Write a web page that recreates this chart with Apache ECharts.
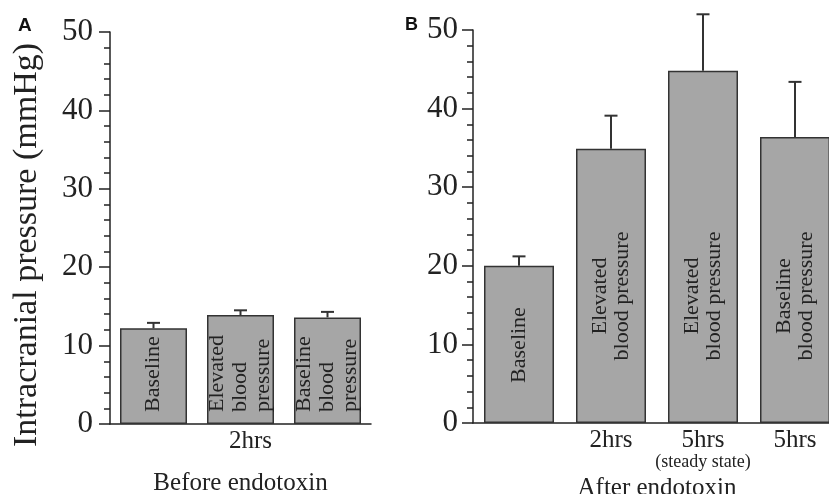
<!DOCTYPE html>
<html>
<head>
<meta charset="utf-8">
<script src="https://cdn.jsdelivr.net/npm/echarts@6/dist/echarts.min.js"></script>
<style>
  html, body { margin: 0; padding: 0; background: #fff; overflow: hidden; }
  #chart { width: 829px; height: 494px; }
</style>
</head>
<body>
<div id="chart"></div>
<script>
// panel A: before endotoxin
const catsA = ['Baseline', 'Elevated blood pressure', 'Baseline blood pressure']
const barTextA = ['Baseline', 'Elevated\nblood\npressure', 'Baseline\nblood\npressure']
const timeA = ['', '2hrs', '']
const valuesA = [12.2, 13.9, 13.6]
const errA = [0.7, 0.6, 0.7]

// panel B: after endotoxin
const catsB = ['Baseline', 'Elevated 2hrs', 'Elevated 5hrs', 'Baseline 5hrs']
const barTextB = ['Baseline', 'Elevated\nblood pressure', 'Elevated\nblood pressure', 'Baseline\nblood pressure']
const timeB = ['', '2hrs', '5hrs', '5hrs']
const noteB = ['', '', '(steady state)', '']
const valuesB = [20.0, 34.9, 44.8, 36.4]
const errB = [1.2, 4.2, 7.2, 7.0]
const labelLiftB = [78, 127, 127, 127] // label centre height above the axis

const yTicks = [0, 10, 20, 30, 40, 50]

const serif = 'Liberation Serif'
const ink = '#222'

const chart = echarts.init(document.getElementById('chart'))

// error bar: stem from bar top up to top + err, with a cap
function errorBar (params, api) {
  const top = api.coord([api.value(0), api.value(1)])
  const end = api.coord([api.value(0), api.value(2)])
  const style = { stroke: '#333', lineWidth: 2 }
  return {
    type: 'group',
    children: [
      { type: 'line', shape: { x1: top[0], y1: top[1], x2: end[0], y2: end[1] }, style: style },
      { type: 'line', shape: { x1: end[0] - 6.5, y1: end[1], x2: end[0] + 6.5, y2: end[1] }, style: style }
    ]
  }
}

function yAxisFor (gridIndex, margin, withName) {
  const ax = {
    type: 'value',
    gridIndex: gridIndex,
    min: yTicks[0],
    max: yTicks[yTicks.length - 1],
    interval: 10,
    splitLine: { show: false },
    axisLine: { show: true, lineStyle: { color: ink, width: 1.5 } },
    axisTick: { show: true, inside: false, length: 11, lineStyle: { color: ink, width: 1.5 } },
    minorTick: { show: true, splitNumber: 5, length: 6, lineStyle: { color: ink, width: 1.5 } },
    axisLabel: { margin: margin, fontFamily: serif, fontSize: 31, color: ink }
  }
  if (withName) {
    ax.name = 'Intracranial pressure (mmHg)'
    ax.nameLocation = 'middle'
    ax.nameRotate = 90
    ax.nameGap = 66
    ax.nameTextStyle = { fontFamily: serif, fontSize: 34, color: ink, padding: [0, 34, 0, 0] }
  }
  return ax
}

const barStyle = { color: '#a6a6a6', borderColor: '#333', borderWidth: 1.5 }

const option = {
  animation: false,
  backgroundColor: '#fff',
  title: [
    { text: 'A', left: 13, top: 11, textStyle: { fontFamily: 'Liberation Sans', fontWeight: 'bold', fontSize: 19, color: '#111' } },
    { text: 'B', left: 400, top: 11, textStyle: { fontFamily: 'Liberation Sans', fontWeight: 'bold', fontSize: 18, color: '#111' } }
  ],
  grid: [
    { left: 110, top: 32, width: 261, height: 392, containLabel: false, outerBoundsMode: 'none' },
    { left: 473, top: 30, width: 368, height: 393, containLabel: false, outerBoundsMode: 'none' }
  ],
  xAxis: [
    {
      type: 'category',
      gridIndex: 0,
      data: catsA,
      name: 'Before endotoxin',
      nameLocation: 'middle',
      nameGap: 47,
      nameTextStyle: { fontFamily: serif, fontSize: 25, color: ink },
      axisLine: { lineStyle: { color: ink, width: 1.5 } },
      axisTick: { show: false },
      axisLabel: {
        margin: 5,
        interval: 0,
        formatter: (v, i) => timeA[i] ? '{t|' + timeA[i] + '}' : '',
        rich: { t: { fontFamily: serif, fontSize: 25, color: ink, padding: [0, 0, 0, 20] } }
      }
    },
    {
      type: 'category',
      gridIndex: 1,
      data: catsB,
      name: 'After endotoxin',
      nameLocation: 'middle',
      nameGap: 50,
      nameTextStyle: { fontFamily: serif, fontSize: 25, color: ink },
      axisLine: { lineStyle: { color: ink, width: 1.5 } },
      axisTick: { show: false },
      axisLabel: {
        margin: 5,
        interval: 0,
        formatter: (v, i) => {
          if (!timeB[i]) return ''
          return noteB[i] ? '{t|' + timeB[i] + '}\n{s|' + noteB[i] + '}' : '{t|' + timeB[i] + '}'
        },
        rich: {
          t: { fontFamily: serif, fontSize: 25, lineHeight: 24, color: ink },
          s: { fontFamily: serif, fontSize: 18, lineHeight: 20, color: ink }
        }
      }
    }
  ],
  yAxis: [yAxisFor(0, 17, true), yAxisFor(1, 15, false)],
  series: [
    {
      type: 'custom',
      xAxisIndex: 0,
      yAxisIndex: 0,
      z: 1,
      renderItem: errorBar,
      encode: { x: 0, y: [1, 2] },
      data: valuesA.map((v, i) => [i, v, v + errA[i]])
    },
    {
      type: 'bar',
      xAxisIndex: 0,
      yAxisIndex: 0,
      z: 2,
      barWidth: 67,
      itemStyle: barStyle,
      label: {
        show: true,
        position: 'insideBottom',
        distance: 12,
        rotate: 90,
        align: 'left',
        verticalAlign: 'middle',
        fontFamily: serif,
        fontSize: 22,
        lineHeight: 23,
        color: ink,
        formatter: (p) => barTextA[p.dataIndex]
      },
      data: valuesA
    },
    {
      type: 'custom',
      xAxisIndex: 1,
      yAxisIndex: 1,
      z: 1,
      clip: false,
      renderItem: errorBar,
      encode: { x: 0, y: [1, 2] },
      data: valuesB.map((v, i) => [i, v, v + errB[i]])
    },
    {
      type: 'bar',
      xAxisIndex: 1,
      yAxisIndex: 1,
      z: 2,
      barWidth: 70,
      itemStyle: barStyle,
      label: {
        show: true,
        position: 'insideBottom',
        rotate: 90,
        align: 'center',
        verticalAlign: 'middle',
        fontFamily: serif,
        fontSize: 22,
        lineHeight: 22,
        color: ink,
        formatter: (p) => barTextB[p.dataIndex]
      },
      data: valuesB.map((v, i) => ({ value: v, label: { distance: labelLiftB[i] } }))
    }
  ]
}

chart.setOption(option)
</script>
</body>
</html>
